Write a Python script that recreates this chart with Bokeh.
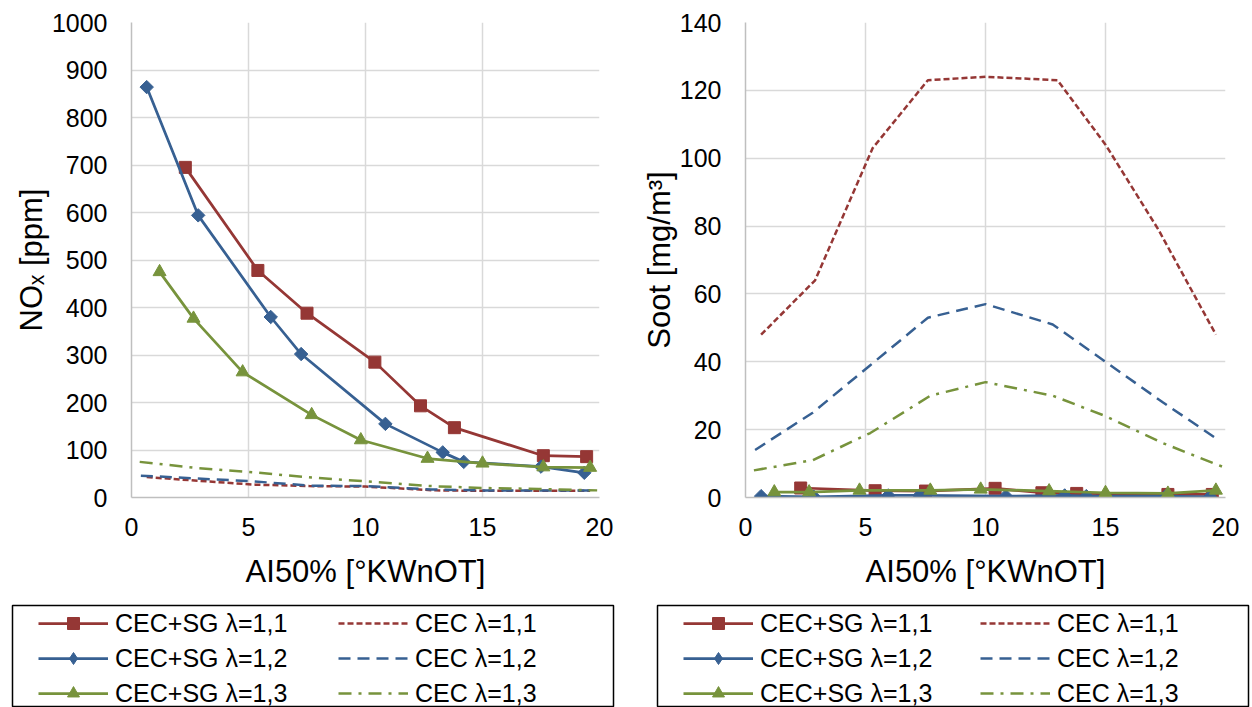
import math
from bokeh.plotting import figure
from bokeh.models import Range1d, FixedTicker, Legend, LegendItem
from bokeh.layouts import row, column
from bokeh.embed import file_html
from bokeh.resources import INLINE

# ---------------- data ----------------
# CEC+SG series (same AI50% positions in both panels)
ai50_sg11 = [2.3, 5.4, 7.5, 10.4, 12.35, 13.8, 17.6, 19.45]
ai50_sg12 = [0.65, 2.85, 5.95, 7.25, 10.85, 13.3, 14.2, 17.5, 19.35]
ai50_sg13 = [1.2, 2.65, 4.75, 7.7, 9.8, 12.65, 15.0, 17.6, 19.6]

nox_sg11 = [695, 478, 388, 285, 193, 147, 88, 86]
nox_sg12 = [864, 594, 380, 302, 155, 95, 75, 65, 52]
nox_sg13 = [475, 377, 264, 174, 121, 82, 72, 64, 63]

soot_sg11 = [2.8, 2.0, 1.9, 2.7, 1.4, 1.2, 0.9, 0.9]
soot_sg12 = [0.4, 0.2, 0.6, 0.6, 0.4, 0.6, 0.4, 0.4, 0.2]
soot_sg13 = [1.6, 1.6, 2.1, 2.1, 2.4, 1.9, 1.4, 1.2, 2.1]

# CEC reference series
ai50_cec11 = [0.65, 2.9, 5.3, 7.6, 10.0, 13.0, 15.0, 17.2, 19.6]
ai50_cec12 = [0.4, 2.8, 5.2, 7.6, 10.0, 12.8, 15.0, 17.4, 19.7]
ai50_cec13 = [0.35, 2.8, 5.2, 7.7, 10.0, 12.8, 15.0, 17.4, 19.9]

nox_cec11 = [43, 35, 27, 24, 23, 15, 14, 14, 14]
nox_cec12 = [46, 40, 34, 25, 24, 17, 15, 15, 15]
nox_cec13 = [75, 62, 53, 42, 34, 24, 20, 18, 15]

soot_cec11 = [48, 64, 103, 123, 124, 123, 104, 79, 48]
soot_cec12 = [14, 25, 39, 53, 57, 51, 40, 28, 17]
soot_cec13 = [8, 11, 19, 30, 34, 30, 24, 16, 9]

x_ticks = [0, 5, 10, 15, 20]
nox_ticks = [0, 100, 200, 300, 400, 500, 600, 700, 800, 900, 1000]
soot_ticks = [0, 20, 40, 60, 80, 100, 120, 140]

labels_sg = ["CEC+SG \u03bb=1,1", "CEC+SG \u03bb=1,2", "CEC+SG \u03bb=1,3"]
labels_cec = ["CEC \u03bb=1,1", "CEC \u03bb=1,2", "CEC \u03bb=1,3"]

# ---------------- style ----------------
RED = "#953735"
BLUE = "#376092"
GREEN = "#77933C"
FONT = "Liberation Sans"
GRID = "#d9d9d9"
AXIS = "#bfbfbf"

colors = [RED, BLUE, GREEN]
dashes = ["6 3", "12 7", "13 7 3 7"]
# markers in the chart (diamond = square turned by 45 degrees)
plot_markers = ["square", "square", "triangle"]
plot_msizes = [12, 9.5, 13]
plot_mangles = [0.0, math.pi / 4, 0.0]
# markers in the legend samples
leg_markers = ["square", "diamond", "triangle"]
leg_msizes = [12, 14, 13]
leg_mangles = [0.0, 0.0, 0.0]

xs_cec = [ai50_cec11, ai50_cec12, ai50_cec13]
xs_sg = [ai50_sg11, ai50_sg12, ai50_sg13]


def add_series(p, sg_y, cec_y, markers, msizes, mangles):
    cec_items = []
    sg_items = []
    for i in range(3):
        rd = p.line(xs_cec[i], cec_y[i], color=colors[i], line_width=2.5,
                    line_dash=dashes[i])
        cec_items.append(LegendItem(label=labels_cec[i], renderers=[rd]))
    for i in range(3):
        rl = p.line(xs_sg[i], sg_y[i], color=colors[i], line_width=2.75)
        rs = p.scatter(xs_sg[i], sg_y[i], marker=markers[i],
                       size=msizes[i], angle=mangles[i], color=colors[i])
        sg_items.append(LegendItem(label=labels_sg[i], renderers=[rl, rs]))
    return sg_items, cec_items


def make_main(y_end, yticks, ylabel, mb_left, mb_top, sg_y, cec_y):
    p = figure(width=626, height=600, x_range=Range1d(0, 20),
               y_range=Range1d(0, y_end), output_backend="svg",
               toolbar_location=None, min_border_left=mb_left,
               min_border_right=27, min_border_top=mb_top,
               min_border_bottom=600 - 497 - (mb_top - 21))
    p.outline_line_color = None
    p.xaxis.ticker = FixedTicker(ticks=x_ticks)
    p.yaxis.ticker = FixedTicker(ticks=yticks)
    for ax in p.axis:
        ax.major_tick_out = 0
        ax.major_tick_in = 0
        ax.minor_tick_out = 0
        ax.minor_tick_in = 0
        ax.axis_line_color = AXIS
        ax.axis_line_width = 1.5
        ax.major_label_text_font = FONT
        ax.major_label_text_font_size = "25px"
        ax.major_label_text_color = "black"
        ax.axis_label_text_font = FONT
        ax.axis_label_text_font_size = "31px"
        ax.axis_label_text_font_style = "normal"
        ax.axis_label_text_color = "black"
    p.xaxis.axis_label = "AI50% [\u00b0KWnOT]"
    p.yaxis.axis_label = ylabel
    p.xaxis.major_label_standoff = 20
    p.xaxis.axis_label_standoff = 15
    p.yaxis.major_label_standoff = 24
    p.yaxis.axis_label_standoff = 0
    p.grid.grid_line_color = GRID
    p.grid.grid_line_width = 1.5
    add_series(p, sg_y, cec_y, plot_markers, plot_msizes, plot_mangles)
    return p


def make_legend(mb_left, mb_right, label_width, sg_y, cec_y):
    # legend panel: its frame is the legend box; the series are drawn
    # outside the visible range, only their legend entries are shown
    lf = figure(width=626, height=107, output_backend="svg",
                toolbar_location=None, x_axis_type=None, y_axis_type=None,
                x_range=Range1d(-200, -100), y_range=Range1d(-200, -100),
                min_border_left=mb_left, min_border_right=mb_right,
                min_border_top=5, min_border_bottom=0)
    lf.outline_line_color = "black"
    lf.outline_line_width = 1.5
    sg_items, cec_items = add_series(lf, sg_y, cec_y, leg_markers,
                                     leg_msizes, leg_mangles)
    leg = Legend(items=sg_items + cec_items, location=(26, -1),
                 orientation="vertical", ncols=2)
    leg.glyph_width = 70
    leg.glyph_height = 30
    leg.label_height = 30
    leg.label_width = label_width
    leg.label_standoff = 7
    leg.spacing = 5
    leg.padding = 0
    leg.margin = 0
    leg.border_line_alpha = 0
    leg.background_fill_alpha = 0
    leg.label_text_font = FONT
    leg.label_text_font_size = "25px"
    leg.label_text_color = "black"
    lf.add_layout(leg, "center")
    return lf


nox_sg = [nox_sg11, nox_sg12, nox_sg13]
nox_cec = [nox_cec11, nox_cec12, nox_cec13]
soot_sg = [soot_sg11, soot_sg12, soot_sg13]
soot_cec = [soot_cec11, soot_cec12, soot_cec13]

p1 = make_main(1000, nox_ticks, "NO\u2093 [ppm]", 131, 21, nox_sg, nox_cec)
p2 = make_main(140, soot_ticks, "Soot [mg/m\u00b3]", 119, 22, soot_sg, soot_cec)

l1 = make_legend(12, 13, 218, nox_sg, nox_cec)
l2 = make_legend(31, 4, 215, soot_sg, soot_cec)

layout = column(row(p1, p2), row(l1, l2))

open("out.html", "w").write(file_html(layout, INLINE))
